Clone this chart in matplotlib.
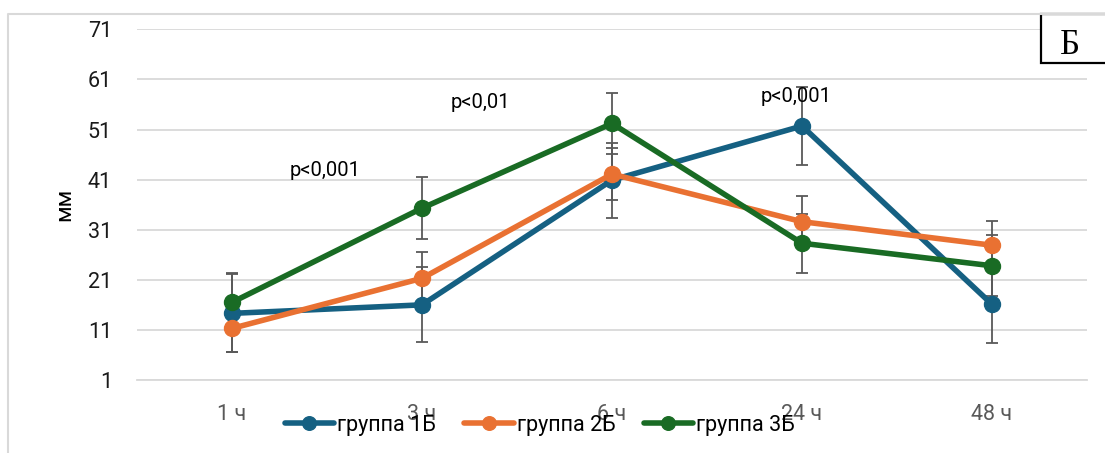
import matplotlib
matplotlib.use("Agg")
import matplotlib.pyplot as plt
from matplotlib.lines import Line2D
from matplotlib.patches import Rectangle

# data
hours = ["1 ч", "3 ч", "6 ч", "24 ч", "48 ч"]
grp1 = [14.3, 16.0, 40.9, 51.7, 16.1]
grp2 = [11.3, 21.3, 42.1, 32.6, 27.9]
grp3 = [16.5, 35.3, 52.2, 28.3, 23.8]
err1 = [7.8, 7.5, 7.5, 7.7, 7.7]
err2 = [4.8, 5.3, 5.2, 5.1, 4.9]
err3 = [5.9, 6.2, 6.1, 5.9, 6.1]
names = ["группа 1Б", "группа 2Б", "группа 3Б"]
colors = ["#156082", "#E97132", "#196B24"]
yticks = [1, 11, 21, 31, 41, 51, 61, 71]
pvals = [(0.49, 42.9, "p<0,001"), (1.31, 56.3, "p<0,01"), (2.97, 57.5, "p<0,001")]

plt.rcParams['font.family'] = ['Roboto', 'DejaVu Sans']

fig = plt.figure(figsize=(11.05, 4.53), dpi=100)
ax = fig.add_axes([137/1105, 1-380/453, 950/1105, (380-29.3)/453])

x = list(range(len(hours)))
for vals, errs in zip([grp1, grp2, grp3], [err1, err2, err3]):
    ax.errorbar(x, vals, yerr=errs, fmt='none', ecolor='#595959',
                elinewidth=1.3, capsize=4.5, capthick=1.3, zorder=2)
for vals, c, n in zip([grp1, grp2, grp3], colors, names):
    ax.plot(x, vals, color=c, linewidth=4, marker='o', markersize=11.5,
            label=n, zorder=3, solid_capstyle='round')

ax.set_xlim(-0.5, len(hours)-0.5)
ax.set_ylim(1, 71)
ax.set_yticks(yticks)
ax.set_xticks(x)
ax.set_xticklabels(hours, color='#595959', fontsize=15.5)
ax.tick_params(axis='y', labelsize=15.5, labelcolor='#1a1a1a', length=0, pad=18)
ax.tick_params(axis='x', length=0, pad=17)
ax.grid(axis='y', color='#d9d9d9', linewidth=1.3)
ax.set_axisbelow(True)
for s in ['top', 'right', 'left']:
    ax.spines[s].set_visible(False)
ax.spines['bottom'].set_color('#d9d9d9')
ax.spines['bottom'].set_linewidth(1.3)
ax.set_ylabel("мм", fontsize=16, labelpad=9)

for px, py, t in pvals:
    ax.text(px, py, t, fontsize=14.5, ha='center', va='center', color='black')

fig.legend(loc='center', bbox_to_anchor=(540/1105, 1-425/453), ncol=3,
           frameon=False, fontsize=15.5, handlelength=2.3, handletextpad=0.15,
           columnspacing=1.3, markerscale=0.85)

# outer chart frame (left and top edges visible)
fig.add_artist(Line2D([8/1105, 8/1105, 1.0], [0.0, 1-14/453, 1-14/453],
                      transform=fig.transFigure, color='#d9d9d9', linewidth=1.5))
# panel label box
fig.add_artist(Rectangle((1041/1105, 1-63/453), 80/1105, 49/453,
                         transform=fig.transFigure, fill=True, facecolor='white',
                         edgecolor='black', linewidth=1.6))
fig.text(1070/1105, 1-45/453, "Б", fontsize=25, family=['Liberation Serif', 'DejaVu Serif'],
         ha='center', va='center')

fig.savefig("out.png", dpi=100)
